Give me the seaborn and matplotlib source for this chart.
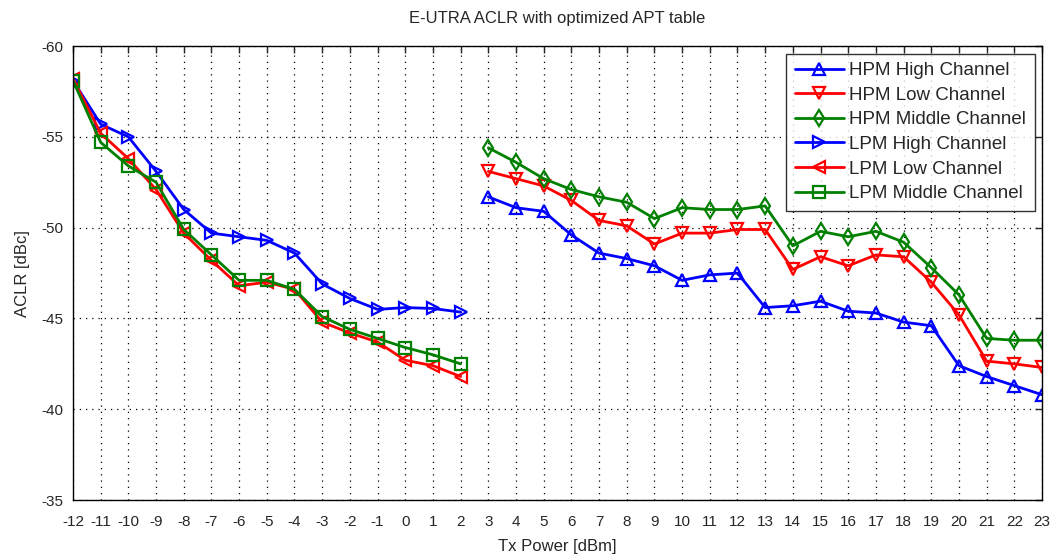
import numpy as np
import pandas as pd
import matplotlib
matplotlib.use("Agg")
import matplotlib.pyplot as plt
import seaborn as sns

lpm_x = list(range(-12, 3))
hpm_x = list(range(3, 24))

lpm_high = [-58.1, -55.7, -55.0, -53.1, -51.0, -49.7, -49.5, -49.3, -48.6, -46.9, -46.1, -45.5, -45.6, -45.55, -45.35]
lpm_low = [-58.2, -55.2, -53.8, -52.1, -49.7, -48.2, -46.8, -47.0, -46.6, -44.8, -44.2, -43.7, -42.7, -42.4, -41.8]
lpm_mid = [-58.1, -54.7, -53.4, -52.5, -49.9, -48.5, -47.1, -47.1, -46.6, -45.1, -44.4, -43.9, -43.4, -43.0, -42.5]

hpm_high = [-51.7, -51.1, -50.9, -49.6, -48.6, -48.3, -47.9, -47.1, -47.4, -47.5, -45.6, -45.7, -45.95,
            -45.4, -45.3, -44.8, -44.6, -42.4, -41.8, -41.3, -40.8]
hpm_low = [-53.1, -52.7, -52.3, -51.5, -50.4, -50.1, -49.1, -49.7, -49.7, -49.9, -49.9, -47.7, -48.4,
           -47.9, -48.5, -48.4, -47.0, -45.2, -42.65, -42.5, -42.3]
hpm_mid = [-54.4, -53.6, -52.7, -52.1, -51.7, -51.4, -50.5, -51.1, -51.0, -51.0, -51.2, -49.0, -49.8,
           -49.5, -49.8, -49.2, -47.8, -46.3, -43.9, -43.8, -43.8]

x_ticks = list(range(-12, 24))
y_ticks = [-60, -55, -50, -45, -40, -35]

series = [
    ("HPM High Channel", hpm_x, hpm_high, "#0000ff", "^"),
    ("HPM Low Channel", hpm_x, hpm_low, "#ff0000", "v"),
    ("HPM Middle Channel", hpm_x, hpm_mid, "#008000", "d"),
    ("LPM High Channel", lpm_x, lpm_high, "#0000ff", ">"),
    ("LPM Low Channel", lpm_x, lpm_low, "#ff0000", "<"),
    ("LPM Middle Channel", lpm_x, lpm_mid, "#008000", "s"),
]

sns.set_style("white")
plt.rcParams['font.family'] = ['Liberation Sans', 'DejaVu Sans']
plt.rcParams['axes.unicode_minus'] = False

fig = plt.figure(figsize=(10.55, 5.59), dpi=100)
ax = fig.add_axes([0.0692, 0.1055, 0.9185, 0.812])

for name, xs, ys, col, mk in series:
    df = pd.DataFrame({"x": xs, "y": ys})
    sns.lineplot(data=df, x="x", y="y", ax=ax, color=col, marker=mk, markersize=9 if mk != "d" else 8,
                 markerfacecolor="none", markeredgecolor=col, markeredgewidth=1.6,
                 linewidth=2, label=name)

ax.set_xlim(-12, 23)
ax.set_ylim(-35, -60)
ax.set_xticks(x_ticks)
ax.set_xticklabels([str(v) for v in x_ticks], fontsize=11)
ax.set_yticks(y_ticks)
ax.set_yticklabels([str(v) for v in y_ticks], fontsize=11)
ax.grid(True, color="black", linestyle=(0, (1, 4)), linewidth=0.9)
ax.tick_params(direction="in", top=True, right=True, length=5, width=1)
ax.tick_params(axis="x", pad=11)
ax.tick_params(axis="y", pad=7)
for s in ax.spines.values():
    s.set_color("black")
    s.set_linewidth(1)
ax.set_xlabel("Tx Power [dBm]", fontsize=12, labelpad=7)
ax.set_ylabel("ACLR [dBc]", fontsize=12, labelpad=8)
ax.set_title("E-UTRA ACLR with optimized APT table", fontsize=12, pad=17)

leg = ax.legend(loc="upper right", fontsize=13.5, frameon=True, fancybox=False,
                edgecolor="black", borderaxespad=0.4, handlelength=2.6, labelspacing=0.4,
                borderpad=0.45, handletextpad=0.3)
leg.get_frame().set_linewidth(1)

fig.savefig("out.png", dpi=100)
